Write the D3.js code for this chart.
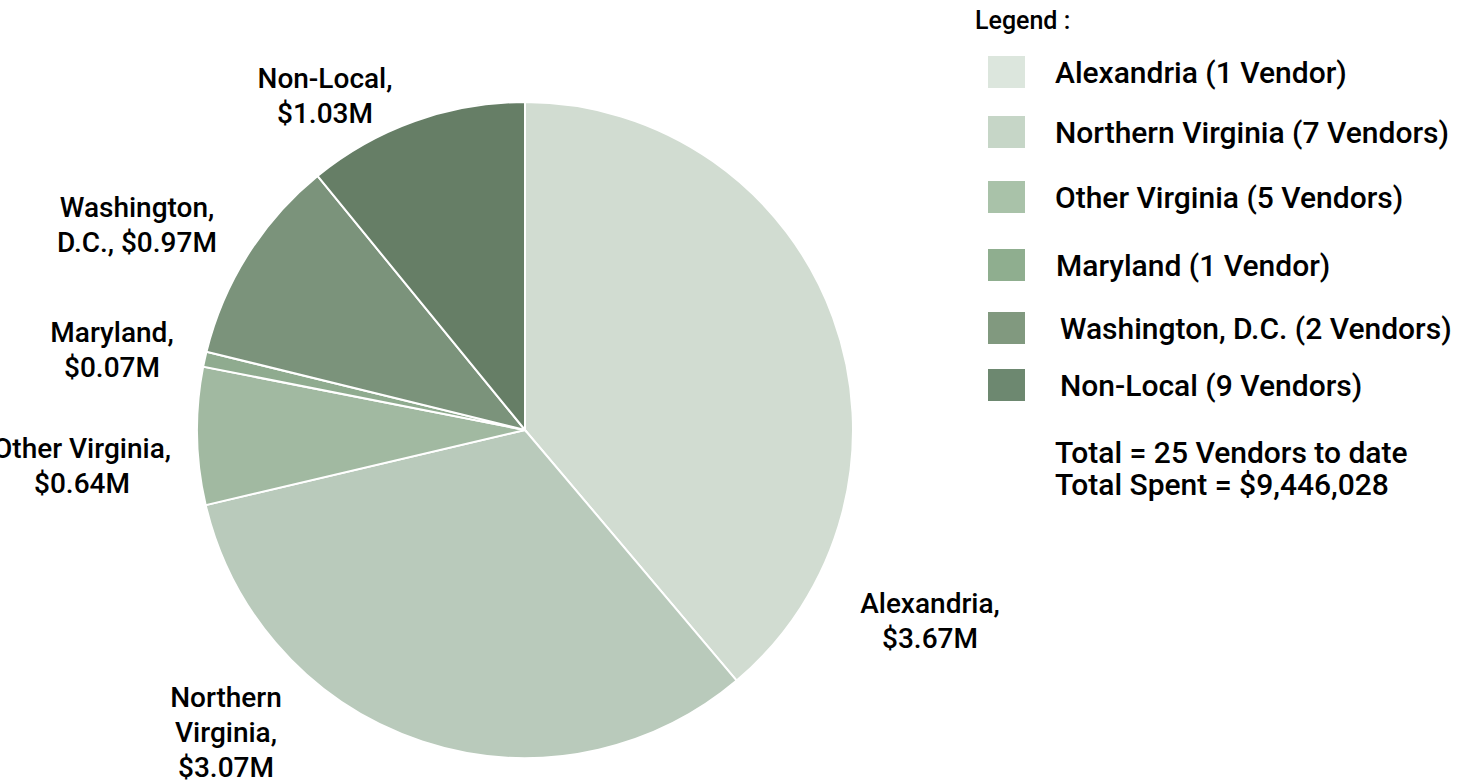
<!DOCTYPE html>
<html>
<head>
<meta charset="utf-8">
<script src="https://cdn.jsdelivr.net/npm/d3@7"></script>
<style>
  body { margin: 0; background: #fff; }
  svg text { font-family: Roboto, "Liberation Sans", sans-serif; font-weight: 500; fill: #000; }
</style>
</head>
<body>
<div id="chart"></div>
<script>
// Spend by vendor location, $M
const regions = ["Alexandria", "Northern Virginia", "Other Virginia", "Maryland", "Washington, D.C.", "Non-Local"];
const spentM = [3.67, 3.07, 0.64, 0.07, 0.97, 1.03];
const vendorCounts = [1, 7, 5, 1, 2, 9];
const sliceLabels = [
  ["Alexandria,", "$3.67M"],
  ["Northern", "Virginia,", "$3.07M"],
  ["Other Virginia,", "$0.64M"],
  ["Maryland,", "$0.07M"],
  ["Washington,", "D.C., $0.97M"],
  ["Non-Local,", "$1.03M"]
];
const totalVendors = 25;
const totalSpent = 9446028;

const sliceColors = ["#d1dcd1", "#b9cabb", "#a1b9a1", "#8fab8f", "#7b937b", "#667e66"];
const swatchColors = ["#dce6dd", "#c6d6c7", "#a9c2a9", "#8fae8f", "#81997f", "#6d8870"];

const width = 1469, height = 782;
const cx = 525, cy = 430, radius = 328;

// label anchor points (layout)
const labelPos = [[930, 603], [226, 697], [82, 448], [112, 332], [137, 207], [325, 78]];
const lineGap = 35;

const svg = d3.select("#chart").append("svg")
  .attr("width", width)
  .attr("height", height);

const pie = d3.pie().sort(null).value(d => d);
const arc = d3.arc().innerRadius(0).outerRadius(radius);

const g = svg.append("g").attr("transform", `translate(${cx},${cy})`);
g.selectAll("path")
  .data(pie(spentM))
  .join("path")
  .attr("d", arc)
  .attr("fill", (d, i) => sliceColors[i])
  .attr("stroke", "#fff")
  .attr("stroke-width", 2);

// slice labels
svg.append("g")
  .selectAll("text")
  .data(sliceLabels)
  .join("text")
  .attr("text-anchor", "middle")
  .attr("font-size", 28)
  .each(function (lines, i) {
    const t = d3.select(this);
    lines.forEach((ln, k) => {
      t.append("tspan")
        .attr("x", labelPos[i][0])
        .attr("y", labelPos[i][1] + k * lineGap)
        .attr("dy", "0.35em")
        .text(ln);
    });
  });

// legend
const legend = svg.append("g");
legend.append("text")
  .attr("x", 975).attr("y", 20).attr("dy", "0.35em")
  .attr("font-size", 25)
  .text("Legend :");

const rowY = [72, 132, 197, 265, 328, 385];
const textX = [1055, 1055, 1055, 1056, 1060, 1060];
const rows = legend.selectAll("g.row")
  .data(regions)
  .join("g").attr("class", "row");
rows.append("rect")
  .attr("x", 988)
  .attr("y", (d, i) => rowY[i] - 16)
  .attr("width", 37).attr("height", 32)
  .attr("fill", (d, i) => swatchColors[i]);
rows.append("text")
  .attr("x", (d, i) => textX[i])
  .attr("y", (d, i) => rowY[i])
  .attr("dy", "0.35em")
  .attr("font-size", 30)
  .text((d, i) => `${d} (${vendorCounts[i]} Vendor${vendorCounts[i] === 1 ? "" : "s"})`);

legend.append("text")
  .attr("x", 1055).attr("y", 452).attr("dy", "0.35em")
  .attr("font-size", 30)
  .text(`Total = ${totalVendors} Vendors to date`);
legend.append("text")
  .attr("x", 1055).attr("y", 484).attr("dy", "0.35em")
  .attr("font-size", 30)
  .text(`Total Spent = ${d3.format("$,")(totalSpent)}`);
</script>
</body>
</html>
